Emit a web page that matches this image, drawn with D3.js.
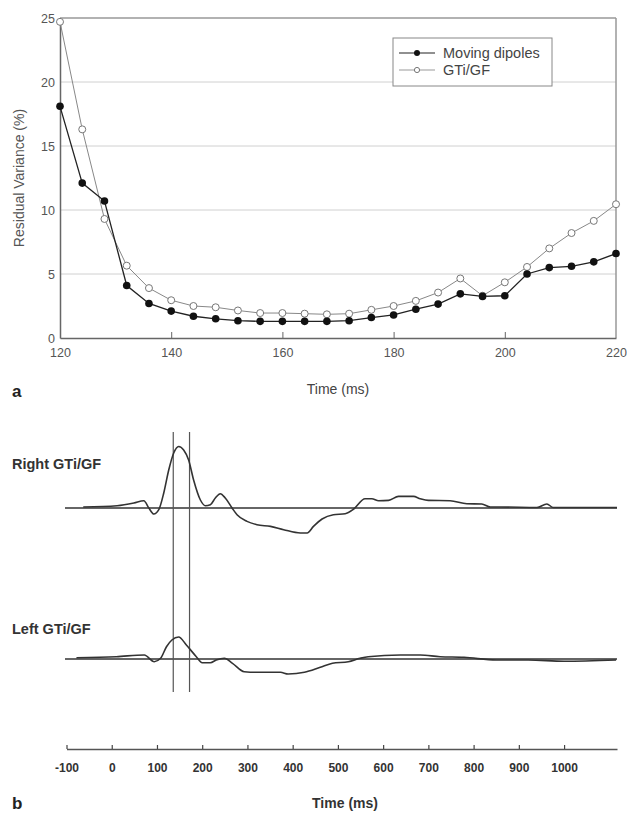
<!DOCTYPE html>
<html>
<head>
<meta charset="utf-8">
<script src="https://cdn.jsdelivr.net/npm/d3@7"></script>
<style>
  body { margin: 0; background: #fff; }
  svg { font-family: "Liberation Sans", Arial, sans-serif; }
</style>
</head>
<body>
<script>
// panel a: residual variance
const timesA = d3.range(120, 221, 4);
const movingDipoles = [18.1, 12.1, 10.7, 4.1, 2.7, 2.1, 1.7, 1.5, 1.35, 1.3, 1.3, 1.3, 1.3, 1.35, 1.6,
  1.8, 2.25, 2.65, 3.45, 3.25, 3.3, 5.0, 5.5, 5.6, 5.95, 6.6];
const gtiGF = [24.7, 16.3, 9.3, 5.65, 3.9, 2.95, 2.5, 2.4, 2.15, 1.95, 1.95, 1.9, 1.85, 1.9, 2.2,
  2.5, 2.9, 3.55, 4.65, 3.3, 4.35, 5.55, 7.0, 8.2, 9.15, 10.45];
const yTicksA = [0, 5, 10, 15, 20, 25];
const xTicksA = [120, 140, 160, 180, 200, 220];
const legendNames = ["Moving dipoles", "GTi/GF"];

// panel b: source waveforms (arbitrary units)
const rightT = [-63, 12, 49, 71, 82, 93, 104, 115, 126, 137, 148, 159, 170, 181, 196, 207, 218, 229, 240,
  251, 266, 277, 299, 321, 351, 380, 417, 432, 446, 465, 490, 516, 535, 560, 575, 590, 612, 634, 667,
  682, 700, 748, 785, 818, 837, 862, 940, 962, 976, 1000, 1117];
const rightA = [1, 2.3, 5, 7.3, 0, -6, -1.7, 15, 38, 55, 61.5, 58, 48, 28, 8, 2.3, 3.3, 10, 14.3,
  10, 0, -6.7, -13.4, -16.7, -18.4, -21.7, -25, -25, -18.4, -11, -6.7, -5.7, -1, 9.3, 9.3, 7.3, 7.6, 11.6, 11.6,
  9.3, 7.6, 7.3, 4.3, 4, 1, 1, 0.5, 4, 0.5, 0.5, 0.5];
const leftT = [-78, 10, 72, 94, 108, 121, 133, 148, 165, 187, 200, 218, 231, 249, 267, 293, 320, 373, 390,
  426, 461, 488, 523, 549, 567, 638, 682, 726, 779, 850, 921, 1000, 1115];
const leftA = [1.3, 2.3, 4, -2.7, 0.7, 12.3, 19, 22, 14, 2.3, -3.7, -3.7, -1, 0.7, -4.3, -12.7, -13.3, -13.3, -15,
  -13.3, -8.3, -4.3, -2.7, 0.7, 2.3, 4, 4, 2.3, 1.7, -1, -1, -2.3, -1];
const markers = [136, 172];
const xTicksB = d3.range(-100, 1001, 100);

const svg = d3.select("body").append("svg").attr("width", 627).attr("height", 813);

// ---- panel a ----
const x = d3.scaleLinear().domain([120, 220]).range([60, 616]);
const y = d3.scaleLinear().domain([0, 25]).range([338, 18]);

svg.selectAll(".grid").data(yTicksA.filter(d => d > 0 && d < 25)).enter().append("line")
  .attr("x1", x(120)).attr("x2", x(220))
  .attr("y1", d => y(d)).attr("y2", d => y(d))
  .attr("stroke", "#d0d0d0").attr("stroke-width", 1);

// frame: top and right lighter, left and bottom axis darker
svg.append("line").attr("x1", x(120)).attr("x2", x(220)).attr("y1", y(25)).attr("y2", y(25))
  .attr("stroke", "#999").attr("stroke-width", 1.5);
svg.append("line").attr("x1", x(220)).attr("x2", x(220)).attr("y1", y(25)).attr("y2", y(0))
  .attr("stroke", "#999").attr("stroke-width", 1.5);

const axisA = svg.append("g").attr("transform", `translate(0,${y(0)})`)
  .call(d3.axisBottom(x).tickValues(xTicksA).tickSize(-6).tickPadding(10).tickSizeOuter(0));
const axisAY = svg.append("g").attr("transform", `translate(${x(120)},0)`)
  .call(d3.axisLeft(y).tickValues(yTicksA).tickSize(0).tickPadding(5));
[axisA, axisAY].forEach(g => {
  g.attr("font-family", null).attr("font-size", 12.5);
  g.select(".domain").attr("stroke", "#666").attr("stroke-width", 1.5);
  g.selectAll(".tick line").attr("stroke", "#666");
  g.selectAll("text").attr("fill", "#555");
});
axisA.selectAll(".tick").filter(d => d === 120 || d === 220).select("line").remove();

const lineA = d3.line().x((d, i) => x(timesA[i])).y(d => y(d));
svg.append("path").datum(gtiGF).attr("d", lineA).attr("fill", "none").attr("stroke", "#888").attr("stroke-width", 1);
svg.append("path").datum(movingDipoles).attr("d", lineA).attr("fill", "none").attr("stroke", "#222").attr("stroke-width", 1.3);

svg.selectAll(".open").data(gtiGF).enter().append("circle")
  .attr("cx", (d, i) => x(timesA[i])).attr("cy", d => y(d)).attr("r", 3.5)
  .attr("fill", "#fff").attr("stroke", "#777").attr("stroke-width", 1);
svg.selectAll(".filled").data(movingDipoles).enter().append("circle")
  .attr("cx", (d, i) => x(timesA[i])).attr("cy", d => y(d)).attr("r", 3.8)
  .attr("fill", "#111");

// legend
const lg = svg.append("g").attr("transform", "translate(393,38)");
lg.append("rect").attr("width", 159).attr("height", 48).attr("fill", "#fff").attr("stroke", "#888").attr("stroke-width", 1);
legendNames.forEach((name, i) => {
  const row = lg.append("g").attr("transform", `translate(0,${15 + i * 17})`);
  row.append("line").attr("x1", 6).attr("x2", 42).attr("stroke", i === 0 ? "#222" : "#999").attr("stroke-width", 1.2);
  row.append("circle").attr("cx", 24).attr("r", i === 0 ? 3 : 2.6)
    .attr("fill", i === 0 ? "#111" : "#fff").attr("stroke", i === 0 ? "none" : "#777");
  row.append("text").attr("x", 50).attr("y", 5).attr("font-size", 14.5).attr("fill", "#444").text(name);
});

svg.append("text").attr("transform", "translate(24,178) rotate(-90)").attr("text-anchor", "middle")
  .attr("font-size", 14).attr("fill", "#555").text("Residual Variance (%)");
svg.append("text").attr("x", 338).attr("y", 394).attr("text-anchor", "middle")
  .attr("font-size", 14).attr("fill", "#444").text("Time (ms)");
svg.append("text").attr("x", 12).attr("y", 397).attr("font-size", 17).attr("font-weight", "bold").attr("fill", "#222").text("a");

// ---- panel b ----
const xb = d3.scaleLinear().domain([-100, 1117]).range([66.5, 617]);
const ampR = d3.scaleLinear().domain([0, 60]).range([508, 448]);
const ampL = d3.scaleLinear().domain([0, 60]).range([659, 599]);

[ampR, ampL].forEach(s => {
  svg.append("line").attr("x1", 65).attr("x2", 617).attr("y1", s(0)).attr("y2", s(0))
    .attr("stroke", "#666").attr("stroke-width", 1.8);
});

svg.selectAll(".marker").data(markers).enter().append("line")
  .attr("x1", d => xb(d)).attr("x2", d => xb(d)).attr("y1", 432).attr("y2", 692)
  .attr("stroke", "#555").attr("stroke-width", 1.2);

const drawTrace = (ts, as, s) => {
  svg.append("path").datum(ts.map((t, i) => [t, as[i]]))
    .attr("d", d3.line().x(d => xb(d[0])).y(d => s(d[1])).curve(d3.curveMonotoneX))
    .attr("fill", "none").attr("stroke", "#333").attr("stroke-width", 1.6);
};
drawTrace(rightT, rightA, ampR);
drawTrace(leftT, leftA, ampL);

svg.append("text").attr("x", 12).attr("y", 469).attr("font-size", 14.5).attr("font-weight", "bold").attr("fill", "#333").text("Right GTi/GF");
svg.append("text").attr("x", 12).attr("y", 634).attr("font-size", 14.5).attr("font-weight", "bold").attr("fill", "#333").text("Left GTi/GF");

const axisB = svg.append("g").attr("transform", "translate(0,749)")
  .call(d3.axisBottom(xb).tickValues(xTicksB).tickFormat(d => String(d))
    .tickSize(-4).tickPadding(14).tickSizeOuter(0));
axisB.attr("font-family", null).attr("font-size", 12).attr("font-weight", "bold");
axisB.select(".domain").attr("stroke", "#555").attr("stroke-width", 1.6);
axisB.selectAll(".tick line").attr("stroke", "#444").attr("stroke-width", 1.2);
axisB.selectAll("text").attr("fill", "#333");

svg.append("text").attr("x", 345).attr("y", 808).attr("text-anchor", "middle")
  .attr("font-size", 14).attr("font-weight", "bold").attr("fill", "#333").text("Time (ms)");
svg.append("text").attr("x", 12).attr("y", 809).attr("font-size", 17).attr("font-weight", "bold").attr("fill", "#222").text("b");
</script>
</body>
</html>
